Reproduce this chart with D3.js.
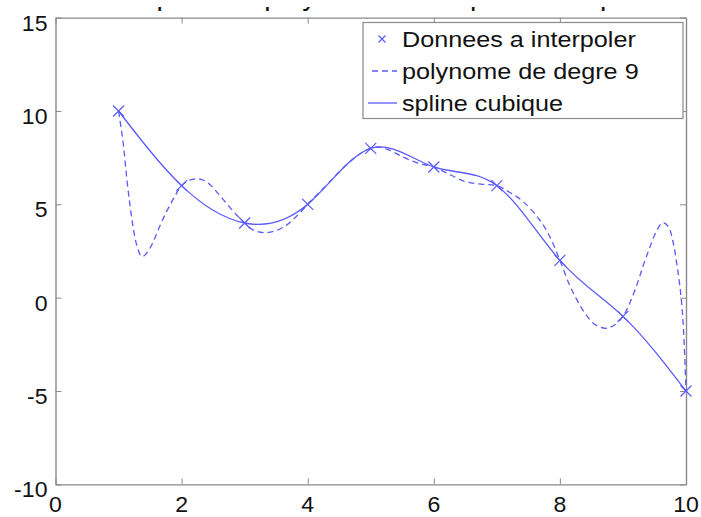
<!DOCTYPE html>
<html>
<head>
<meta charset="utf-8">
<script src="https://cdn.jsdelivr.net/npm/d3@7"></script>
<style>
  body { margin: 0; background: #fff; }
  text { font-family: "Liberation Sans", Arial, sans-serif; }
</style>
</head>
<body>
<div id="my_dataviz"></div>
<script>
// points to interpolate
var xData = [1, 2, 3, 4, 5, 6, 7, 8, 9, 10];
var yData = [10, 6, 4, 5, 8, 7, 6, 2, -1, -5];

// degree 9 polynomial
var xPoly = [1, 1.04, 1.08, 1.13, 1.18, 1.23, 1.29, 1.37, 1.45, 1.55, 1.65, 1.76, 1.88, 2,
             2.13, 2.27, 2.4, 2.6, 2.8, 3, 3.15, 3.32, 3.5, 3.67, 3.82, 4,
             4.2, 4.35, 4.5, 4.67, 4.85, 5, 5.15, 5.3, 5.5, 5.75, 6,
             6.25, 6.5, 6.75, 7, 7.2, 7.42, 7.68, 7.85, 8,
             8.15, 8.27, 8.4, 8.55, 8.72, 8.85, 9,
             9.1, 9.22, 9.33, 9.43, 9.53, 9.63, 9.72, 9.8, 9.85, 9.9, 9.95, 10];
var yPoly = [10, 9.1, 8.1, 6.4, 5.0, 3.8, 2.8, 2.2, 2.4, 3.0, 3.8, 4.6, 5.35, 6,
             6.3, 6.36, 6.2, 5.5, 4.7, 4, 3.6, 3.48, 3.6, 3.9, 4.35, 5,
             5.7, 6.2, 6.75, 7.28, 7.75, 8, 8.05, 7.9, 7.55, 7.2, 7,
             6.6, 6.22, 6.08, 6, 5.65, 5.14, 4.16, 3.2, 2,
             0.7, -0.12, -0.85, -1.42, -1.64, -1.5, -1,
             -0.35, 0.68, 1.8, 2.73, 3.55, 4.02, 3.8, 2.9, 1.9, 0.7, -1.1, -5];

var xTicks = [0, 2, 4, 6, 8, 10];
var yTicks = [-10, -5, 0, 5, 10, 15];
var legendLabels = ["Donnees a interpoler", "polynome de degre 9", "spline cubique"];
var titleText = "Interpolation polynomiale et spline cubique";

var W = 701, H = 517;
var margin = {top: 17.6, right: 15, bottom: 32.6, left: 55.5},
    width = W - margin.left - margin.right,
    height = H - margin.top - margin.bottom;

var blue = "#5a5aff";
var gray = "#8a8a8a";

var svg = d3.select("#my_dataviz")
    .append("svg")
    .attr("width", W)
    .attr("height", H);

// title, mostly cut off by the top edge (only the descenders show)
svg.append("clipPath").attr("id", "titleclip")
    .append("rect").attr("x", 0).attr("y", 7).attr("width", W).attr("height", 6);
svg.append("text")
    .attr("clip-path", "url(#titleclip)")
    .attr("x", margin.left + width / 2 - 2)
    .attr("y", 5)
    .attr("text-anchor", "middle")
    .style("font-size", "28.5px")
    .attr("fill", "#111")
    .text(titleText);

var g = svg.append("g")
    .attr("transform", "translate(" + margin.left + "," + margin.top + ")");

var x = d3.scaleLinear().domain([0, 10]).range([0, width]);
var y = d3.scaleLinear().domain([-10, 15]).range([height, 0]);

// axes box with inward ticks on all sides
function styleAxis(sel) {
    sel.select(".domain").attr("stroke", gray).attr("stroke-width", 1.4);
    sel.selectAll(".tick line").attr("stroke", gray).attr("stroke-width", 1);
}
var tickLen = 6;
g.append("g").attr("transform", "translate(0," + height + ")")
    .call(d3.axisTop(x).tickValues(xTicks).tickSize(tickLen).tickSizeOuter(0).tickFormat(""))
    .call(styleAxis);
g.append("g")
    .call(d3.axisBottom(x).tickValues(xTicks).tickSize(tickLen).tickSizeOuter(0).tickFormat(""))
    .call(styleAxis);
g.append("g")
    .call(d3.axisRight(y).tickValues(yTicks).tickSize(tickLen).tickSizeOuter(0).tickFormat(""))
    .call(styleAxis);
g.append("g").attr("transform", "translate(" + width + ",0)")
    .call(d3.axisLeft(y).tickValues(yTicks).tickSize(tickLen).tickSizeOuter(0).tickFormat(""))
    .call(styleAxis);

// tick labels
g.selectAll(".xlab").data(xTicks).enter().append("text")
    .attr("class", "xlab")
    .attr("transform", function(d) { return "translate(" + x(d) + "," + (height + 28) + ") scale(1.05,1)"; })
    .attr("text-anchor", "middle")
    .style("font-size", "22px")
    .attr("fill", "#111")
    .text(function(d) { return d; });
g.selectAll(".ylab").data(yTicks).enter().append("text")
    .attr("class", "ylab")
    .attr("transform", function(d) { return "translate(-8," + (y(d) + 13) + ") scale(1.05,1)"; })
    .attr("text-anchor", "end")
    .style("font-size", "22px")
    .attr("fill", "#111")
    .text(function(d) { return d; });

var pts = xData.map(function(d, i) { return [d, yData[i]]; });
var poly = xPoly.map(function(d, i) { return [d, yPoly[i]]; });

var line = d3.line()
    .x(function(d) { return x(d[0]); })
    .y(function(d) { return y(d[1]); });

// polynomial (dashed)
g.append("path")
    .datum(poly)
    .attr("fill", "none")
    .attr("stroke", blue)
    .attr("stroke-width", 1.3)
    .attr("stroke-dasharray", "6,4")
    .attr("d", line.curve(d3.curveCatmullRom.alpha(0.5)));

// cubic spline (solid)
g.append("path")
    .datum(pts)
    .attr("fill", "none")
    .attr("stroke", blue)
    .attr("stroke-width", 1.3)
    .attr("d", line.curve(d3.curveNatural));

// data markers
function drawX(sel, s) {
    sel.append("path")
        .attr("fill", "none")
        .attr("stroke", blue)
        .attr("stroke-width", 1.2)
        .attr("d", "M" + (-s) + "," + (-s) + "L" + s + "," + s + "M" + (-s) + "," + s + "L" + s + "," + (-s));
}
g.selectAll(".pt").data(pts).enter().append("g")
    .attr("class", "pt")
    .attr("transform", function(d) { return "translate(" + x(d[0]) + "," + y(d[1]) + ")"; })
    .each(function() { drawX(d3.select(this), 5.5); });

// legend
var legend = svg.append("g").attr("transform", "translate(363,22.5)");
legend.append("rect")
    .attr("width", 320).attr("height", 96)
    .attr("fill", "#fff")
    .attr("stroke", gray)
    .attr("stroke-width", 1.2);

var rowY = function(i) { return 16.5 + i * 32; };
var rows = legend.selectAll(".row").data(legendLabels).enter().append("g")
    .attr("class", "row")
    .attr("transform", function(d, i) { return "translate(0," + rowY(i) + ")"; });

rows.append("text")
    .attr("transform", "translate(39,8) scale(1.12,1)")
    .style("font-size", "22.5px")
    .attr("fill", "#111")
    .text(function(d) { return d; });

drawX(legend.append("g").attr("transform", "translate(19," + rowY(0) + ")"), 3.5);
legend.append("line")
    .attr("x1", 9).attr("x2", 34).attr("y1", rowY(1)).attr("y2", rowY(1))
    .attr("stroke", blue).attr("stroke-width", 1.3).attr("stroke-dasharray", "6,4");
legend.append("line")
    .attr("x1", 5).attr("x2", 34).attr("y1", rowY(2)).attr("y2", rowY(2))
    .attr("stroke", blue).attr("stroke-width", 1.3);
</script>
</body>
</html>
